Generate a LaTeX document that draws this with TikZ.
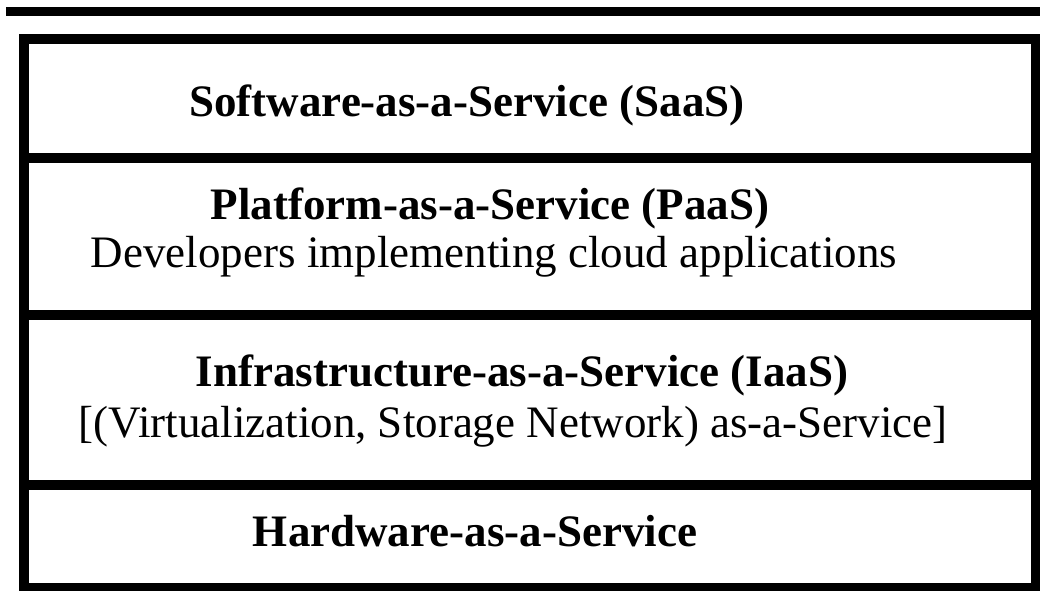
\documentclass[tikz,border=0pt]{standalone}
\usepackage{fontspec}
\setmainfont{Liberation Serif}
\usetikzlibrary{positioning}

\begin{document}
\begin{tikzpicture}[x=1pt, y=-1pt,
    frame/.style={line width=10pt, line cap=rect},
    layer/.style={anchor=base, inner sep=0pt, font=\fontsize{45}{54}\selectfont\bfseries},
    note/.style={anchor=base, inner sep=0pt, font=\fontsize{45}{54}\selectfont}]
    \useasboundingbox (0,0) rectangle (1040,590);

    % rule above the table
    \draw[line width=9pt] (6,11.5) -- (1045,11.5);

    % outer frame and layer dividers
    \draw[frame] (23.5,38.5) rectangle (1035.5,588);
    \draw[frame] (23.5,157.5) -- (1035.5,157.5);
    \draw[frame] (23.5,315) -- (1035.5,315);
    \draw[frame] (23.5,485) -- (1035.5,485);

    % service layers
    \node[layer] (saas) at (467,116) {Software-as-a-Service (SaaS)};
    \node[layer] (paas) at (490,219) {Platform-as-a-Service (PaaS)};
    \node[note]  (paasnote) at (494,267) {Developers implementing cloud applications};
    \node[layer] (iaas) at (522,386) {Infrastructure-as-a-Service (IaaS)};
    \node[note]  (iaasnote) at (513,437) {[(Virtualization, Storage Network) as-a-Service]};
    \node[layer] (haas) at (475,546) {Hardware-as-a-Service};
\end{tikzpicture}
\end{document}
